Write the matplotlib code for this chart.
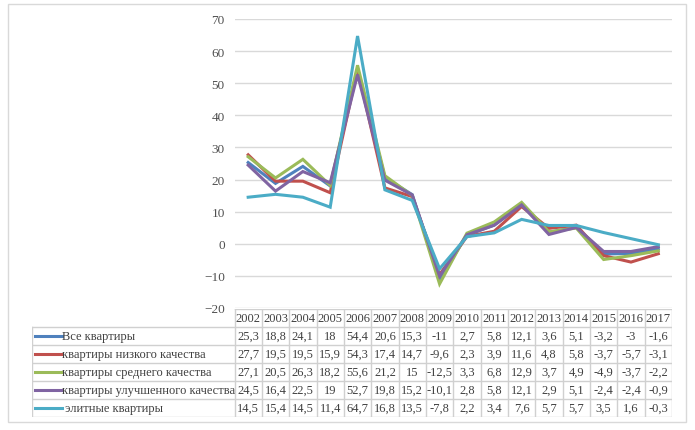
import matplotlib
matplotlib.use('Agg')
import matplotlib.pyplot as plt
from matplotlib.patches import Rectangle

plt.rcParams['font.family'] = ['Liberation Serif', 'DejaVu Serif']

# данные
years = [2002, 2003, 2004, 2005, 2006, 2007, 2008, 2009,
         2010, 2011, 2012, 2013, 2014, 2015, 2016, 2017]
names = ['Все квартиры', 'квартиры низкого качества', 'квартиры среднего качества',
         'квартиры улучшенного качества', ' элитные квартиры']
vse = [25.3, 18.8, 24.1, 18, 54.4, 20.6, 15.3, -11, 2.7, 5.8, 12.1, 3.6, 5.1, -3.2, -3, -1.6]
nizk = [27.7, 19.5, 19.5, 15.9, 54.3, 17.4, 14.7, -9.6, 2.3, 3.9, 11.6, 4.8, 5.8, -3.7, -5.7, -3.1]
sred = [27.1, 20.5, 26.3, 18.2, 55.6, 21.2, 15, -12.5, 3.3, 6.8, 12.9, 3.7, 4.9, -4.9, -3.7, -2.2]
uluch = [24.5, 16.4, 22.5, 19, 52.7, 19.8, 15.2, -10.1, 2.8, 5.8, 12.1, 2.9, 5.1, -2.4, -2.4, -0.9]
elit = [14.5, 15.4, 14.5, 11.4, 64.7, 16.8, 13.5, -7.8, 2.2, 3.4, 7.6, 5.7, 5.7, 3.5, 1.6, -0.3]
series = [vse, nizk, sred, uluch, elit]
colors = ['#4F81BD', '#C0504D', '#9BBB59', '#8064A2', '#4BACC6']

W, H = 695, 431
fig = plt.figure(figsize=(W / 100, H / 100), dpi=100)

# рамка диаграммы
fig.patches.append(Rectangle((8 / W, 1 - 423 / H), 678 / W, 418 / H, transform=fig.transFigure,
                             fill=False, edgecolor='#D9D9D9', linewidth=1))

# график
x0, x1 = 234.5, 672
ax = fig.add_axes([x0 / W, 1 - 309 / H, (x1 - x0) / W, 289 / H])
idx = list(range(len(years)))
for s, c in zip(series, colors):
    ax.plot(idx, s, color=c, linewidth=2.2, solid_joinstyle='miter')
ax.set_xlim(-0.5, len(years) - 0.5)
ax.set_ylim(-20, 70)
ax.set_yticks(range(-20, 71, 10))
ax.set_xticks([])
ax.grid(axis='y', color='#D9D9D9', linewidth=1)
ax.set_axisbelow(True)
for sp in ax.spines.values():
    sp.set_visible(False)
ax.tick_params(axis='y', length=0, pad=7, labelsize=9.5, labelcolor='#505050')

# таблица данных
lab_w = (x0 - 32) / ((x1 - x0) / len(years))
tb = fig.add_axes([32 / W, 1 - 418 / H, (x1 - 32) / W, 108 / H])
tb.set_xlim(-0.5 - lab_w, len(years) - 0.5)
tb.set_ylim(6, 0)
tb.axis('off')
gc = '#D0D0D0'
# горизонтальные линии
tb.plot([-0.5, len(years) - 0.5], [0, 0], color=gc, lw=1)
for r in range(1, 7):
    tb.plot([-0.5 - lab_w, len(years) - 0.5], [r, r], color=gc, lw=1)
# вертикальные линии
tb.plot([-0.5 - lab_w, -0.5 - lab_w], [1, 6], color=gc, lw=1)
for i in range(len(years) + 1):
    tb.plot([i - 0.5, i - 0.5], [0, 6], color=gc, lw=1)

tc = '#404040'
fs = 9
for i, y in enumerate(years):
    tb.text(i, 0.5, str(y), ha='center', va='center', fontsize=fs, color=tc)
for r, (nm, s, c) in enumerate(zip(names, series, colors), start=1):
    tb.plot([-0.5 - lab_w + 0.12, -0.5 - lab_w + 1.08], [r + 0.5, r + 0.5], color=c, lw=2.2)
    tb.text(-0.5 - lab_w + 1.1, r + 0.5, nm, ha='left', va='center', fontsize=fs, color=tc)
    for i, v in enumerate(s):
        t = ('%g' % v).replace('.', ',')
        tb.text(i, r + 0.5, t, ha='center', va='center', fontsize=fs, color=tc)

fig.savefig('out.png', dpi=100)
